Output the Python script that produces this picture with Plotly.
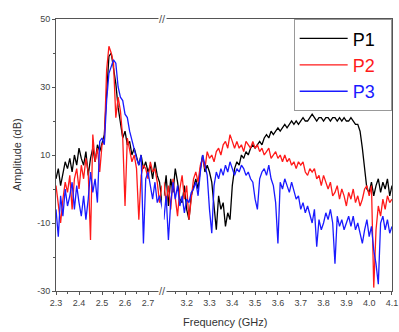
import numpy as np
import plotly.graph_objects as go

# ---- data ----
freq_low = [round(2.30 + 0.01 * i, 2) for i in range(48)]     # 2.30 .. 2.77 GHz
freq_high = [round(3.10 + 0.01 * i, 2) for i in range(101)]   # 3.10 .. 4.10 GHz

p1_low = [3, 6, 1, 4, 8, 6, 9, 5, 10, 7, 12, 9, 7, 11, 4, 9, 12, 8, 13, 11,
          14, 16, 28, 39, 40, 36, 31, 24, 20, 15, 17, 13, 14, 10, 12, 9, 7, 10, 6, 8,
          5, 7, 3, 8, 4, 2, -3, -9]
p2_low = [1, -4, -10, -3, 2, -1, 4, -6, 3, 6, 0, 7, 3, 9, 5, -15, 16, 8, 12, 5,
          13, 14, 35, 42, 40, 37, 21, 27, 23, 15, -5, 15, 11, 8, 10, 6, -9, 4, 7, 6,
          3, 8, 5, 6, 2, -4, 1, -5]
p3_low = [-6, -14, -2, -8, 0, -5, -2, 2, -6, 1, -4, -8, -2, -9, -3, 5, -1, 3, -4, 14,
          15, 13, 26, 34, 36, 38, 37, 30, 27, 26, 22, 21, 17, 14, 11, 9, 7, 10, -16, 3,
          5, 1, -3, 2, -4, -2, -5, -8]

p1_high = [-2, 4, -5, 3, -1, 6, 2, -3, -4, 1, -6, -9, -2, 1, 3, 0, 6, 10, 5, 7,
           5, 2, -5, -12, -2, -6, -4, -11, -7, -9, 1, 6, 8, 7, 10, 9, 11, 10, 12, 13,
           12, 13, 14, 13, 15, 16, 15, 17, 16, 17, 18, 17, 18, 19, 18, 19, 20, 19, 20, 19,
           20, 21, 20, 20, 21, 22, 21, 20, 21, 21, 20, 21, 21, 20, 21, 21, 20, 21, 20, 21,
           20, 20, 21, 20, 19, 19, 17, 12, 5, 0, -1, 2, -2, 1, 3, -1, 2, 0, 3, -2,
           1]
p2_high = [2, -4, 1, -6, 3, -2, -8, 0, 4, -3, 1, -9, -2, 3, 5, 2, 7, 9, 6, 11,
           9, 10, 8, 11, 12, 10, 13, 14, 12, 16, 14, 12, 14, 12, 13, 11, 14, 13, 12, 14,
           12, 13, 11, 12, 10, 11, 12, 9, 10, 11, 9, 10, 8, 10, 8, 9, 7, 8, 6, 8,
           7, 8, 5, 4, 6, 5, 6, 3, 4, 1, 4, 2, 0, 2, -2, -1, 1, -3, 0, -2,
           -5, -1, -3, 0, -4, -2, -5, -3, 0, 1, -2, 1, -29, -12, -5, -8, -3, -6, -2, -4,
           -3]
p3_high = [-9, -2, -15, -4, 2, -3, 1, -5, -2, -7, -3, -4, -1, 0, 2, -2, 5, 10, 7, 4,
           -6, -13, 1, 5, 3, 6, 4, 7, 5, 8, 6, 4, 6, 5, 7, 6, 4, 5, 3, 2,
           -3, -6, 3, 5, 6, 4, 7, 3, 1, -4, -16, 2, 0, 3, 1, -1, 2, -1, -3, -2,
           -6, -4, -7, -5, -8, -10, -6, -17, -9, -12, -10, -7, -9, -6, -10, -22, -8, -11, -9, -12,
           -10, -8, -11, -8, -12, -10, -13, -16, -12, -9, -14, -11, -18, -22, -28, -10, -8, -12, -9, -13,
           -11]

names = ["P1", "P2", "P3"]
colors = ["#000000", "#ff1a1a", "#1a1aff"]
low_series = [p1_low, p2_low, p3_low]
high_series = [p1_high, p2_high, p3_high]

x_ticks_low = [2.3, 2.4, 2.5, 2.6, 2.7]
x_ticks_high = [3.2, 3.3, 3.4, 3.5, 3.6, 3.7, 3.8, 3.9, 4.0, 4.1]
y_ticks = [-30, -10, 10, 30, 50]

FONT = "Liberation Sans, Arial, sans-serif"
AX = "#555555"

fig = go.Figure()
for name, col, ylo in zip(names, colors, low_series):
    fig.add_trace(go.Scatter(
        x=freq_low, y=ylo, mode="lines", xaxis="x", yaxis="y",
        line=dict(color=col, width=1.3),
        name=f'<span style="color:{col}">{name}</span>&nbsp;&nbsp;', showlegend=True))
for name, col, yhi in zip(names, colors, high_series):
    fig.add_trace(go.Scatter(
        x=freq_high, y=yhi, mode="lines", xaxis="x2", yaxis="y2",
        line=dict(color=col, width=1.3), name=name, showlegend=False))

tickfont = dict(family=FONT, size=9, color="#444444")
common_x = dict(showline=True, linecolor=AX, linewidth=1, mirror=True,
                ticks="outside", ticklen=3, tickcolor=AX, showgrid=False,
                zeroline=False, tickfont=tickfont, automargin=False)

fig.update_layout(
    width=399, height=332,
    margin=dict(l=56, r=7, t=19, b=41),
    paper_bgcolor="white", plot_bgcolor="white",
    xaxis=dict(domain=[0, 0.315], range=[2.3, 2.76], tickvals=x_ticks_low,
               ticktext=[f"{v:.1f}" for v in x_ticks_low],
               minor=dict(tickvals=[2.35, 2.45, 2.55, 2.65, 2.75], ticks="outside",
                          ticklen=2, tickcolor=AX),
               anchor="y", **common_x),
    xaxis2=dict(domain=[0.321, 1], range=[3.1, 4.1], tickvals=x_ticks_high,
                ticktext=[f"{v:.1f}" for v in x_ticks_high],
                minor=dict(tickvals=[3.15, 3.25, 3.35, 3.45, 3.55, 3.65, 3.75, 3.85, 3.95, 4.05],
                           ticks="outside", ticklen=2, tickcolor=AX),
                anchor="y2", **common_x),
    yaxis=dict(range=[-30, 50], anchor="x", tickvals=y_ticks,
               ticktext=[str(v) for v in y_ticks],
               minor=dict(tickvals=[-20, 0, 20, 40], ticks="outside", ticklen=2, tickcolor=AX),
               showline=True, linecolor=AX, linewidth=1, ticks="outside", ticklen=3,
               tickcolor=AX, showgrid=False, zeroline=False, tickfont=tickfont,
               automargin=False),
    yaxis2=dict(range=[-30, 50], anchor="x2", matches="y", side="right",
                showline=True, linecolor=AX, linewidth=1, ticks="",
                showticklabels=False, showgrid=False, zeroline=False, automargin=False),
    legend=dict(x=0.999, y=0.999, xanchor="right", yanchor="top",
                bgcolor="white", bordercolor="#999999", borderwidth=1,
                font=dict(family=FONT, size=18, color="#000000"),
                tracegroupgap=0, itemwidth=48),
    showlegend=True,
)

fig.add_annotation(text="Frequency (GHz)", xref="paper", yref="paper",
                   x=0.503, y=-0.115, showarrow=False, yanchor="middle",
                   font=dict(family=FONT, size=11, color="#333333"))
fig.add_annotation(text="Amplitude (dB)", xref="paper", yref="paper",
                   x=-0.116, y=0.5, showarrow=False, textangle=-90,
                   xanchor="center", yanchor="middle",
                   font=dict(family=FONT, size=11, color="#333333"))
for yy in (0, 1):
    fig.add_annotation(text="//", xref="paper", yref="paper", x=0.318, y=yy,
                       showarrow=False, xanchor="center", yanchor="middle",
                       font=dict(family=FONT, size=11, color=AX),
                       bgcolor="white", borderpad=0)

fig.write_html(
    "out.html",
    config={"displayModeBar": False},
    post_script="document.body.style.margin='0';document.body.style.overflow='hidden';",
)
